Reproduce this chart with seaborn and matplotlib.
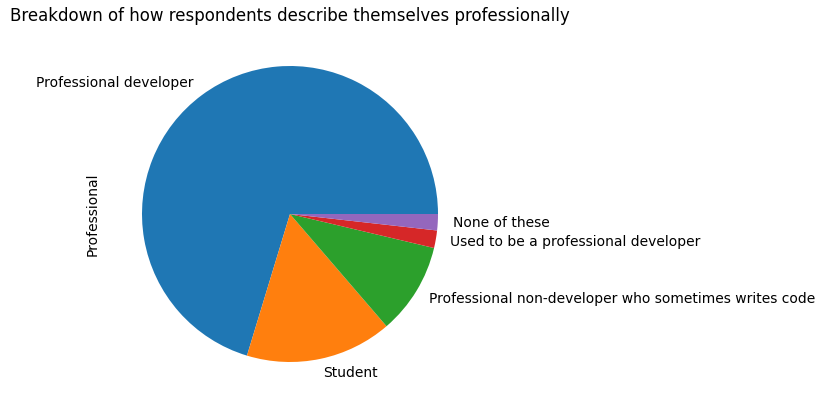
import matplotlib
matplotlib.use("Agg")
import matplotlib.pyplot as plt
import seaborn as sns
import pandas as pd

categories = [
    "Professional developer",
    "Student",
    "Professional non-developer who sometimes writes code",
    "Used to be a professional developer",
    "None of these",
]
counts = [36131, 8224, 5140, 983, 914]

df = pd.DataFrame({"Professional": counts}, index=categories)

colors = sns.color_palette("tab10", len(categories))

fig = plt.figure(figsize=(8.25, 4.09), dpi=100)
ax = fig.add_axes([105 / 825, 10 / 409, 370 / 825, 370 / 409])

ax.pie(df["Professional"], labels=df.index, colors=colors)
ax.set_ylabel("Professional")
ax.set_title("Breakdown of how respondents describe themselves professionally")

fig.savefig("out.png", dpi=100)
